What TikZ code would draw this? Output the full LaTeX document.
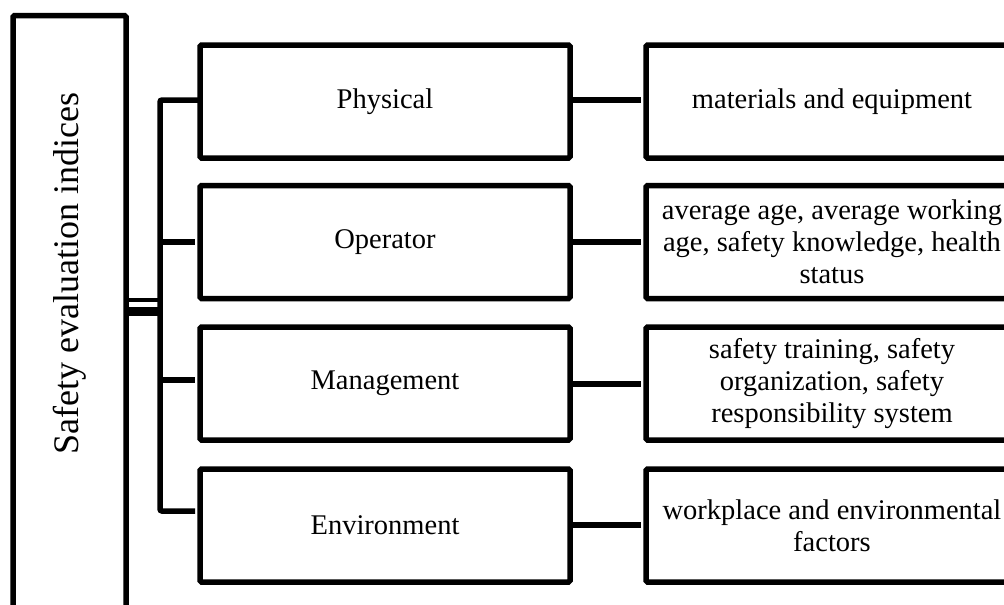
\documentclass[tikz,border=0pt]{standalone}
\usepackage{fontspec}
\setmainfont{Liberation Serif}
\begin{document}
\begin{tikzpicture}[x=1pt,y=-1pt,
  lbl/.style={font=\fontsize{28.5}{32}\selectfont, align=center},
  box/.style={draw, line width=5.5pt, rounded corners=1.5pt, outer sep=0pt,
    inner sep=0pt, minimum height=113pt, lbl},
  midbox/.style={box, minimum width=370pt},
  factbox/.style={box, minimum width=372pt},
  conn/.style={line width=5.5pt, rounded corners=2pt}]
\useasboundingbox (0,0) rectangle (1004,605);
\clip (0,0) rectangle (1004,605);

% root box, running past the lower edge
\node[box, minimum width=113pt, minimum height=700pt, anchor=north] (idx) at (69.5,15.5) {};
\node[font=\fontsize{36}{40}\selectfont, rotate=90, anchor=east, inner sep=0pt] (idxlabel) at (70,92) {Safety evaluation indices};

% index categories
\node[midbox] (m1) at (385,101.5) {Physical};
\node[midbox] (m2) at (385,242) {Operator};
\node[midbox] (m3) at (385,383.5) {Management};
\node[midbox] (m4) at (385,525.5) {Environment};

% contents of each category
\node[factbox] (f1) at (832,101.5) {materials and equipment};
\node[factbox] (f2) at (832,242) {average age, average working\\age, safety knowledge, health\\status};
\node[factbox] (f3) at (832,383.5) {safety training, safety\\organization, safety\\responsibility system};
\node[factbox] (f4) at (832,525.5) {workplace and environmental\\factors};

% bracket joining the root to the categories
\coordinate (j1) at (160,100);
\coordinate (j2) at (160,242);
\coordinate (j3) at (160,380);
\coordinate (j4) at (160,511);
\draw[conn, shorten >=5pt] (m1.west |- j1) -- (j1) -- (j4) -- (m4.west |- j4);
\draw[conn, shorten >=5pt] (j2) -- (m2.west |- j2);
\draw[conn, shorten >=5pt] (j3) -- (m3.west |- j3);
\coordinate (ja) at (160,300);
\coordinate (jb) at (160,311);
\draw[line width=4pt] (idx.east |- ja) -- (ja);
\draw[line width=9pt] (idx.east |- jb) -- (jb);

% category to contents
\coordinate (r1) at (0,100);
\coordinate (r2) at (0,242);
\coordinate (r3) at (0,384);
\coordinate (r4) at (0,525);
\foreach \i in {1,2,3,4}
  \draw[conn, shorten >=5pt] (m\i.east |- r\i) -- (f\i.west |- r\i);
\end{tikzpicture}
\end{document}
